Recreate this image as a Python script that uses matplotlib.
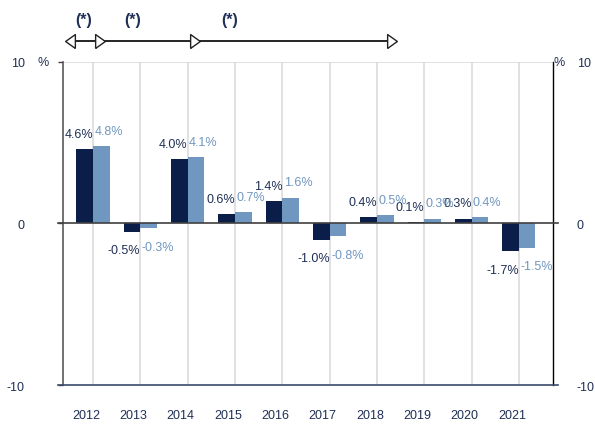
"""Annual change, two series, bar chart with period arrows on top."""
import matplotlib

matplotlib.use("Agg")
import matplotlib.pyplot as plt
import numpy as np
from matplotlib.transforms import ScaledTranslation

plt.rcParams["font.family"] = ["Liberation Sans", "DejaVu Sans"]

years = ["2012", "2013", "2014", "2015", "2016", "2017", "2018", "2019", "2020", "2021"]
series_dark = [4.6, -0.5, 4.0, 0.6, 1.4, -1.0, 0.4, 0.1, 0.3, -1.7]
series_light = [4.8, -0.3, 4.1, 0.7, 1.6, -0.8, 0.5, 0.3, 0.4, -1.5]
y_ticks = [-10, 0, 10]

# period markers above the plot (category units)
arrow_left = [-0.49]
arrow_right = [0.15, 2.15, 6.32]
star_x = [-0.19, 0.84, 2.89]

DARK = "#0b1e4a"
LIGHT = "#7097bf"
TXT = "#1f2f55"

fig = plt.figure(figsize=(5.95, 4.27), dpi=100)
ax = fig.add_axes([0.1059, 0.0960, 0.8235, 0.7565])

x = np.arange(len(years))
w = 0.35
ax.bar(x - w, series_dark, w, align="edge", color=DARK, zorder=3)
ax.bar(x, series_light, w, align="edge", color=LIGHT, zorder=3)

for xi, v in zip(x, series_dark):
    off = 11 if v >= 0 else -13.5
    ax.annotate(f"{v:.1f}%", (xi, v), xytext=(0, off), textcoords="offset points",
                ha="right", va="center", fontsize=9, color=TXT, zorder=5)
for xi, v in zip(x, series_light):
    off = 11 if v >= 0 else -13.5
    ax.annotate(f"{v:.1f}%", (xi, v), xytext=(1, off), textcoords="offset points",
                ha="left", va="center", fontsize=9, color=LIGHT, zorder=5)

ax.set_xlim(-0.634, 9.72)
ax.set_ylim(-10, 10)

# category grid lines + top line
for xi in x:
    ax.axvline(xi, color="#d9d9d9", lw=1.1, zorder=1)
ax.axhline(10, color="#d9d9d9", lw=1.1, zorder=1)
ax.plot([-0.01, 1.01], [0.5, 0.5], transform=ax.transAxes, color="#404040",
        lw=1.2, clip_on=False, zorder=4)
ax.plot([-0.01, 1.01], [0, 0], transform=ax.transAxes, color="#3b4a6b",
        lw=1.2, clip_on=False, zorder=4)

for s in ["top", "bottom"]:
    ax.spines[s].set_visible(False)
ax.spines["left"].set_color("#595959")
ax.spines["left"].set_linewidth(1.2)
ax.spines["right"].set_color("black")
ax.spines["right"].set_linewidth(1.0)

ax.set_xticks(x, years, fontsize=9, color=TXT)
ax.tick_params(axis="x", length=0, pad=17)
for lab in ax.get_xticklabels():
    lab.set_transform(lab.get_transform() + ScaledTranslation(-0.07, 0, fig.dpi_scale_trans))

ax.set_yticks(y_ticks, [str(t) for t in y_ticks], fontsize=9, color=TXT)
ax.tick_params(axis="y", direction="out", length=3.6, width=1, color="#404040", pad=24)
ax2 = ax.twinx()
ax2.set_ylim(ax.get_ylim())
ax2.set_yticks(y_ticks, [str(t) for t in y_ticks], fontsize=9, color=TXT)
ax2.tick_params(axis="y", length=0, pad=17)
for s in ax2.spines.values():
    s.set_visible(False)

# unit marks next to the top ticks
ax.annotate("%", (0, 1), xycoords="axes fraction", xytext=(-10, 0),
            textcoords="offset points", ha="right", va="center", fontsize=9, color=TXT)
ax.annotate("%", (1, 1), xycoords="axes fraction", xytext=(0.5, 0),
            textcoords="offset points", ha="left", va="center", fontsize=9, color=TXT)

# period arrows
tri_r = [(-0.7, -1), (0.7, 0), (-0.7, 1), (-0.7, -1)]
tri_l = [(0.7, -1), (-0.7, 0), (0.7, 1), (0.7, -1)]
y_arr = 11.3
ax.plot([arrow_left[0], arrow_right[-1]], [y_arr, y_arr], color="black", lw=1.2,
        clip_on=False, zorder=6)
ax.plot(arrow_left, [y_arr] * len(arrow_left), marker=tri_l, ms=10, mfc="white",
        mec="#222222", mew=1.0, ls="none", clip_on=False, zorder=7)
ax.plot(arrow_right, [y_arr] * len(arrow_right), marker=tri_r, ms=10, mfc="white",
        mec="#222222", mew=1.0, ls="none", clip_on=False, zorder=7)
for sx in star_x:
    ax.text(sx, 12.66, "(*)", ha="center", va="center", fontsize=11.5,
            fontweight="bold", color=TXT, clip_on=False)

fig.savefig("out.png", dpi=100)
